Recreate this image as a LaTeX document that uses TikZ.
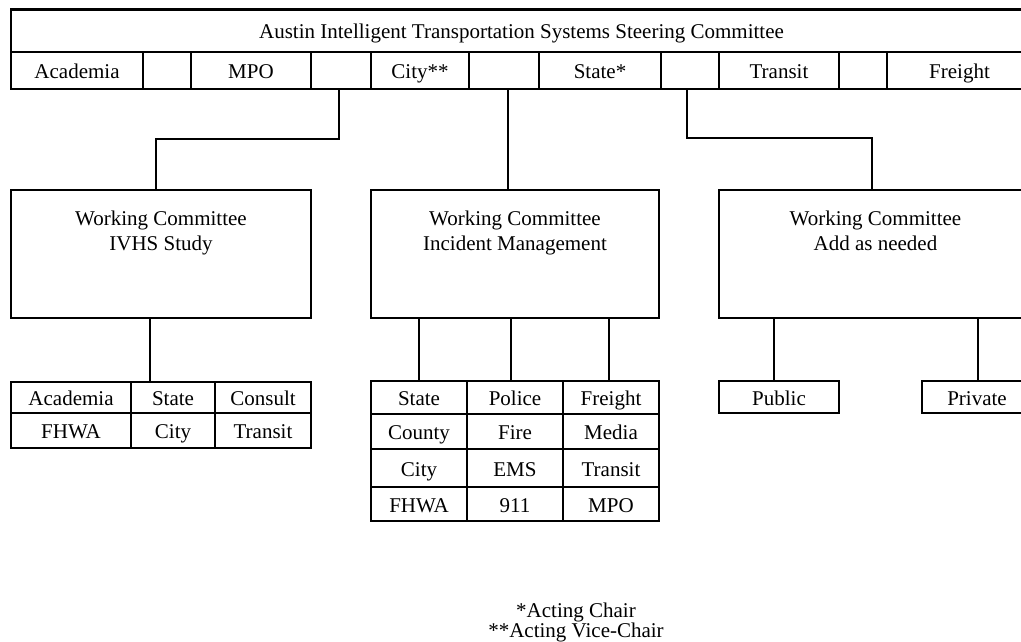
\documentclass[tikz,border=0pt]{standalone}
\usepackage{fontspec}
\setmainfont{Liberation Serif}
% a boxed cell given by its corners (x1,y1) and (x2,y2)
\newcommand\putcell[6]{\node[cellbox, minimum width={(#4-#2)*1pt}, minimum height={(#5-#3)*1pt}] (#1) at ({(#2+#4)/2},{(#3+#5)/2}) {#6};}
\begin{document}
\begin{tikzpicture}[x=1pt,y=-1pt,
  txt/.style={font=\fontsize{21}{25}\selectfont},
  cellbox/.style={draw, line width=2.8pt, inner sep=0pt, text height=16pt, text depth=0pt, txt},
  wctext/.style={anchor=base, align=center, inner sep=0pt, txt},
  note/.style={anchor=base, inner sep=0pt, txt},
  link/.style={line width=2pt}]
\useasboundingbox (0,0) rectangle (1021,642);
\clip (0,0) rectangle (1021,642);

% steering committee
\putcell{title}{11}{9.5}{1032}{52}{Austin Intelligent Transportation Systems Steering Committee}
\putcell{mAcad}{11}{52}{143}{89}{Academia}
\putcell{gA}{143}{52}{191}{89}{}
\putcell{mMPO}{191}{52}{311}{89}{MPO}
\putcell{gB}{311}{52}{371}{89}{}
\putcell{mCity}{371}{52}{469}{89}{City**}
\putcell{gC}{469}{52}{539}{89}{}
\putcell{mState}{539}{52}{661}{89}{State*}
\putcell{gD}{661}{52}{719}{89}{}
\putcell{mTransit}{719}{52}{839}{89}{Transit}
\putcell{gE}{839}{52}{887}{89}{}
\putcell{mFreight}{887}{52}{1032}{89}{Freight}

% working committees
\putcell{wc1}{11}{190}{311}{318}{}
\putcell{wc2}{371}{190}{659}{318}{}
\putcell{wc3}{719}{190}{1032}{318}{}
\node[wctext] (wc1t) at ([yshift=-62pt]wc1.north) {Working Committee\\IVHS Study};
\node[wctext] (wc2t) at ([yshift=-62pt]wc2.north) {Working Committee\\Incident Management};
\node[wctext] (wc3t) at ([yshift=-62pt]wc3.north) {Working Committee\\Add as needed};

% IVHS study members
\putcell{t1a}{11}{382}{131}{413}{Academia}
\putcell{t1b}{131}{382}{215}{413}{State}
\putcell{t1c}{215}{382}{311}{413}{Consult}
\putcell{t1d}{11}{413}{131}{448}{FHWA}
\putcell{t1e}{131}{413}{215}{448}{City}
\putcell{t1f}{215}{413}{311}{448}{Transit}

% incident management members
\putcell{t2a}{371}{381}{467}{414}{State}
\putcell{t2b}{467}{381}{563}{414}{Police}
\putcell{t2c}{563}{381}{659}{414}{Freight}
\putcell{t2d}{371}{414}{467}{449}{County}
\putcell{t2e}{467}{414}{563}{449}{Fire}
\putcell{t2f}{563}{414}{659}{449}{Media}
\putcell{t2g}{371}{449}{467}{487}{City}
\putcell{t2h}{467}{449}{563}{487}{EMS}
\putcell{t2i}{563}{449}{659}{487}{Transit}
\putcell{t2j}{371}{487}{467}{521}{FHWA}
\putcell{t2k}{467}{487}{563}{521}{911}
\putcell{t2l}{563}{487}{659}{521}{MPO}

% add-as-needed members
\putcell{pub}{719}{381}{839}{413}{Public}
\putcell{priv}{922}{381}{1032}{413}{Private}

% connectors
\draw[link] ([xshift=-2pt]gB.south) -- ++(0,49) -| ([xshift=-5pt]wc1.north);
\draw[link] ([xshift=4pt]gC.south) -- ([xshift=-7pt]wc2.north);
\draw[link] ([xshift=-3pt]gD.south) -- ++(0,48) -| ([xshift=-3.5pt]wc3.north);
\draw[link] ([xshift=-11pt]wc1.south) -- ([xshift=-11pt]wc1.south |- t1b.north);
\draw[link] (t2a.north |- wc2.south) -- (t2a.north);
\draw[link] ([xshift=-4pt]t2b.north |- wc2.south) -- ([xshift=-4pt]t2b.north);
\draw[link] ([xshift=-2pt]t2c.north |- wc2.south) -- ([xshift=-2pt]t2c.north);
\draw[link] ([xshift=-5pt]pub.north |- wc3.south) -- ([xshift=-5pt]pub.north);
\draw[link] ([xshift=1pt]priv.north |- wc3.south) -- ([xshift=1pt]priv.north);

% footnotes
\node[note] (n1) at (576,617) {*Acting Chair};
\node[note] (n2) at (576,637) {**Acting Vice-Chair};
\end{tikzpicture}
\end{document}
